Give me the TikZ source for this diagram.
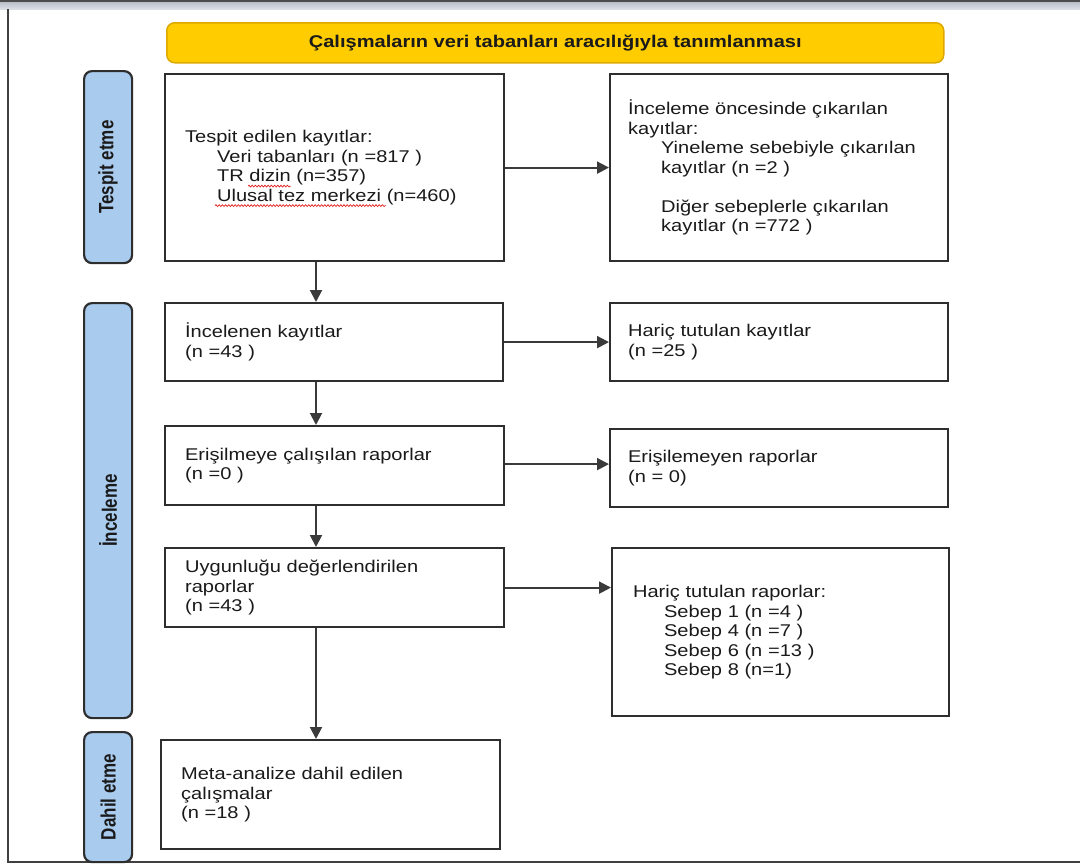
\documentclass[tikz,border=0pt]{standalone}
\usepackage{fontspec}
\setmainfont[FakeStretch=1.18]{Liberation Sans}
\newfontfamily\vfont{Liberation Sans}
\usetikzlibrary{arrows.meta,decorations.pathmorphing}
\definecolor{txt}{HTML}{1A1A1A}
\definecolor{boxc}{HTML}{2E2E2E}
\definecolor{arrc}{HTML}{3A3A3A}
\definecolor{labfill}{HTML}{A9CBEE}
\definecolor{yel}{HTML}{FFCC00}
\definecolor{yeldraw}{HTML}{DDA800}
\definecolor{bandtop}{HTML}{B9BEC7}
\definecolor{bandbot}{HTML}{DDE0E5}
\definecolor{spell}{HTML}{E02020}
\begin{document}
\begin{tikzpicture}[x=1pt,y=-1pt,
  box/.style={draw=boxc, line width=2.2pt, fill=white, rectangle, anchor=north west,
    inner xsep=20pt, inner ysep=0pt, align=left, text=txt,
    font=\fontsize{17}{19.5}\selectfont},
  rbox/.style={box, inner xsep=18pt},
  lab/.style={draw=boxc, fill=labfill, rounded corners=8pt, line width=2.2pt,
    anchor=north west, inner sep=0pt, minimum width=48pt, text=txt},
  ttl/.style={draw=yeldraw, fill=yel, rounded corners=8pt, line width=1.5pt,
    anchor=north west, inner sep=0pt, text=txt, font=\fontsize{17}{19.5}\selectfont\bfseries},
  arr/.style={draw=arrc, line width=2pt, -{Triangle[length=12pt,width=12pt]}},
  squig/.style={draw=spell, line width=0.7pt, decorate,
    decoration={snake, amplitude=0.9pt, segment length=3.2pt}}
]
\useasboundingbox (0,0) rectangle (1080,865);
% window frame
\shade[top color=bandtop, bottom color=bandbot] (0,1.5) rectangle (1080,9);
\fill[black!70] (0,0) rectangle (1080,1.8);
\draw[black!75, line width=1.5pt] (8,9) -- (8,862) -- (1080,862);

% title
\node[ttl, minimum width=777pt, minimum height=40pt] (T) at (166,22)
  {Çalışmaların veri tabanları aracılığıyla tanımlanması};

% phase labels
\newcommand\vlab[1]{\rotatebox{90}{\scalebox{1}[1.22]{\vfont\fontsize{17}{19}\selectfont\bfseries #1}}}
\node[lab, minimum height=192pt] (L1) at (83,70) {\vlab{Tespit etme}};
\node[lab, minimum height=415pt] (L2) at (83,302) {\vlab{İnceleme}};
\node[lab, minimum height=130pt] (L3) at (83,731) {\vlab{Dahil etme}};

% left column
\node[box, minimum width=339pt, minimum height=187pt, text width=299pt] (B1) at (164,73)
  {Tespit edilen kayıtlar:\\
   \hspace*{32pt}Veri tabanları (n =817 )\\
   \hspace*{32pt}TR dizin (n=357)\\
   \hspace*{32pt}Ulusal tez merkezi (n=460)};
\node[box, minimum width=338pt, minimum height=78pt, text width=298pt] (B2) at (164,302)
  {İncelenen kayıtlar\\(n =43 )};
\node[box, minimum width=339pt, minimum height=79pt, text width=299pt] (B3) at (164,425)
  {Erişilmeye çalışılan raporlar\\(n =0 )};
\node[box, minimum width=339pt, minimum height=79pt, text width=299pt] (B4) at (164,547)
  {Uygunluğu değerlendirilen\\raporlar\\(n =43 )};
\node[box, minimum width=339pt, minimum height=109pt, text width=299pt] (B5) at (160,739)
  {Meta-analize dahil edilen\\çalışmalar\\(n =18 )};

% spell-check marks under "dizin" and "Ulusal tez merkezi"
\draw[squig] ([shift={(84,18.5)}]B1.west) -- ([shift={(127,18.5)}]B1.west);
\draw[squig] ([shift={(51,38)}]B1.west) -- ([shift={(222,38)}]B1.west);

% right column
\node[rbox, minimum width=338pt, minimum height=187pt, text width=302pt] (R1) at (609,73)
  {İnceleme öncesinde çıkarılan\\
   kayıtlar:\\
   \hspace*{33pt}Yineleme sebebiyle çıkarılan\\
   \hspace*{33pt}kayıtlar (n =2 )\\[19.5pt]
   \hspace*{33pt}Diğer sebeplerle çıkarılan\\
   \hspace*{33pt}kayıtlar (n =772 )};
\node[rbox, minimum width=338pt, minimum height=78pt, text width=302pt] (R2) at (609,302)
  {Hariç tutulan kayıtlar\\(n =25 )};
\node[rbox, minimum width=338pt, minimum height=78pt, text width=302pt] (R3) at (609,428)
  {Erişilemeyen raporlar\\(n = 0)};
\node[rbox, minimum width=337pt, minimum height=168pt, text width=295pt, inner xsep=21pt] (R4) at (611,547)
  {Hariç tutulan raporlar:\\
   \hspace*{31pt}Sebep 1 (n =4 )\\
   \hspace*{31pt}Sebep 4 (n =7 )\\
   \hspace*{31pt}Sebep 6 (n =13 )\\
   \hspace*{31pt}Sebep 8 (n=1)};

% connectors
\coordinate (ax) at (316,0);
\draw[arr] (ax |- B1.south) -- (ax |- B2.north);
\draw[arr] (ax |- B2.south) -- (ax |- B3.north);
\draw[arr] (ax |- B3.south) -- (ax |- B4.north);
\draw[arr] (ax |- B4.south) -- (ax |- B5.north);
\draw[arr] (B1.east) -- (B1.east -| R1.west);
\draw[arr] (B2.east) -- (B2.east -| R2.west);
\draw[arr] ([yshift=1.5pt]B3.east) -- ([yshift=1.5pt]B3.east -| R3.west);
\draw[arr] (B4.east) -- (B4.east -| R4.west);
\end{tikzpicture}
\end{document}
